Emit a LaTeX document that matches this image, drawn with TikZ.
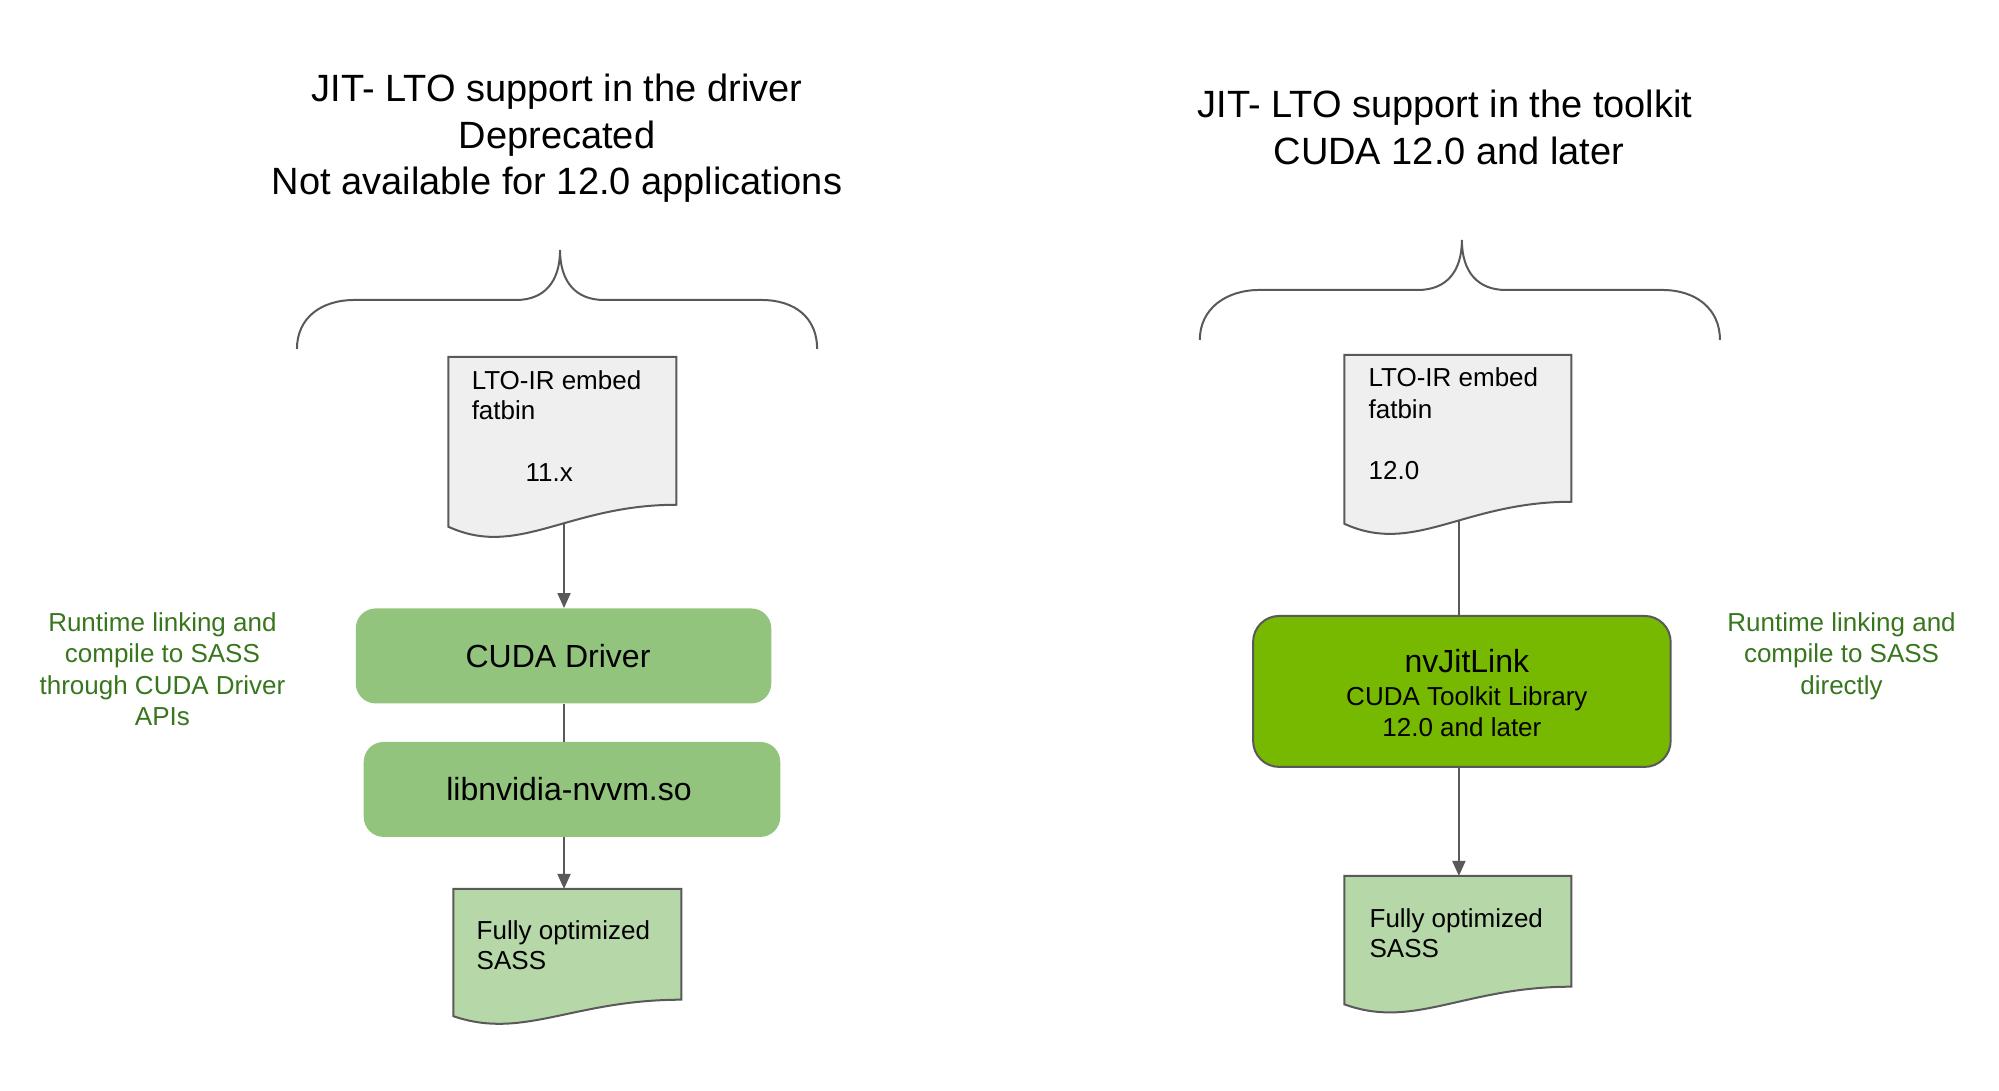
\documentclass[tikz,border=0pt]{standalone}
\usepackage{fontspec}
\setmainfont{Liberation Sans}
\usetikzlibrary{arrows.meta,calc}
\definecolor{linegray}{HTML}{595959}
\definecolor{docgray}{HTML}{EFEFEF}
\definecolor{lightgreen}{HTML}{B6D7A8}
\definecolor{midgreen}{HTML}{93C47D}
\definecolor{nvgreen}{HTML}{76B900}
\definecolor{textgreen}{HTML}{38761D}
\newcommand\docoutline[3]{%
  \draw[docframe, fill=#2] (#1.north west) -- (#1.north east) -- (#1.south east)
    .. controls ($(#1.south west)+(120,0)$) and ($(#1.south west)+(70,54*#3)$) ..
    ($(#1.south west)+(0,22*#3)$) coordinate[pos=0.435] (#1-out) -- cycle;%
}
\begin{document}
\begin{tikzpicture}[x=0.4983pt,y=-0.5pt,
  titletext/.style={anchor=base, inner sep=0, font=\fontsize{19}{23}\selectfont},
  doctext/.style={anchor=base west, inner sep=0, font=\fontsize{13}{15}\selectfont},
  greentext/.style={anchor=base, inner sep=0, text=textgreen, font=\fontsize{13}{15.5}\selectfont},
  libtext/.style={anchor=base, inner sep=0},
  boxtext/.style={inner sep=0, font=\fontsize{16}{19}\selectfont},
  bracepath/.style={draw=linegray, line width=1pt},
  docframe/.style={draw=linegray, line width=1pt},
  conn/.style={draw=linegray, line width=1pt},
  arrowconn/.style={conn, -{Triangle[length=7.5pt,width=6.5pt]}},
  stagebox/.style={fill=midgreen, rounded corners=10pt, inner sep=0,
    minimum width=207.8pt, minimum height=47.5pt},
  libbox/.style={fill=nvgreen, draw=linegray, line width=1pt, rounded corners=13pt, inner sep=0},
  docarea/.style={inner sep=0, draw=none, anchor=north west}
]
\useasboundingbox (0,0) rectangle (2006,1091);

% titles
\node[titletext] (tL1) at (559,102) {JIT- LTO support in the driver};
\node[titletext] (tL2) at (559,149) {Deprecated};
\node[titletext] (tL3) at (559,195) {Not available for 12.0 applications};
\node[titletext] (tR1) at (1450,118) {JIT- LTO support in the toolkit};
\node[titletext] (tR2) at (1454,165) {CUDA 12.0 and later};

% braces
\draw[bracepath] (298,349) .. controls (298,318) and (322,300) .. (356,300)
  -- (518,300) .. controls (546,300) and (562,282) .. (562,250)
  .. controls (562,282) and (578,300) .. (606,300)
  -- (764,300) .. controls (798,300) and (820,318) .. (820,349);
\draw[bracepath] (1204,340) .. controls (1204,309) and (1230,290) .. (1264,290)
  -- (1423,290) .. controls (1451,290) and (1467,272) .. (1467,240)
  .. controls (1467,272) and (1483,290) .. (1511,290)
  -- (1668,290) .. controls (1702,290) and (1726,309) .. (1726,340);

% document areas
\node[docarea, minimum width=113.6pt, minimum height=73.5pt] (ltoL) at (450,357) {};
\node[docarea, minimum width=113.6pt, minimum height=55pt] (sassL) at (455,889) {};
\node[docarea, minimum width=113.1pt, minimum height=73pt] (ltoR) at (1349,355) {};
\node[docarea, minimum width=113.1pt, minimum height=55pt] (sassR) at (1349,876) {};
\docoutline{ltoL}{docgray}{1}
\docoutline{sassL}{lightgreen}{0.75}
\docoutline{ltoR}{docgray}{1}
\docoutline{sassR}{lightgreen}{0.8}

% document texts
\node[doctext] (ltoL1) at (473,390) {LTO-IR embed};
\node[doctext] (ltoL2) at (473,420) {fatbin};
\node[doctext] (ltoL3) at (527,482) {11.x};
\node[doctext] (ltoR1) at (1373,387) {LTO-IR embed};
\node[doctext] (ltoR2) at (1373,419) {fatbin};
\node[doctext] (ltoR3) at (1373,480) {12.0};
\node[doctext] (sassL1) at (478,940) {Fully optimized};
\node[doctext] (sassL2) at (478,970) {SASS};
\node[doctext] (sassR1) at (1374,928) {Fully optimized};
\node[doctext] (sassR2) at (1374,958) {SASS};

% boxes
\node[stagebox] (cudadrv) at (565.5,656) {};
\node[boxtext] (cudadrvT) at (560,656) {CUDA Driver};
\node[stagebox, minimum width=208.3pt] (libnv) at (574,789.5) {};
\node[boxtext] (libnvT) at (571,789.5) {libnvidia-nvvm.so};
\node[libbox, minimum width=208.8pt, minimum height=75.5pt] (nvjit) at (1467,691.5) {};
\node[libtext, font=\fontsize{16}{19}\selectfont] (nvjit1) at (1472,673) {nvJitLink};
\node[libtext, font=\fontsize{13}{15}\selectfont] (nvjit2) at (1472,706) {CUDA Toolkit Library};
\node[libtext, font=\fontsize{13}{15}\selectfont] (nvjit3) at (1467,737) {12.0 and later};

% green notes
\node[greentext] (gL1) at (163,632) {Runtime linking and};
\node[greentext] (gL2) at (163,663) {compile to SASS};
\node[greentext] (gL3) at (163,695) {through CUDA Driver};
\node[greentext] (gL4) at (163,726) {APIs};
\node[greentext] (gR1) at (1848,632) {Runtime linking and};
\node[greentext] (gR2) at (1848,663) {compile to SASS};
\node[greentext] (gR3) at (1848,695) {directly};

% connectors
\coordinate (colL) at (566,0);
\coordinate (colR) at (1464,0);
\draw[arrowconn] (colL |- ltoL-out) -- (colL |- cudadrv.north);
\draw[conn] (colL |- cudadrv.south) -- (colL |- libnv.north);
\draw[arrowconn] (colL |- libnv.south) -- (colL |- sassL.north);
\draw[conn] (colR |- ltoR-out) -- (colR |- nvjit.north);
\draw[arrowconn] (colR |- nvjit.south) -- (colR |- sassR.north);
\end{tikzpicture}
\end{document}
